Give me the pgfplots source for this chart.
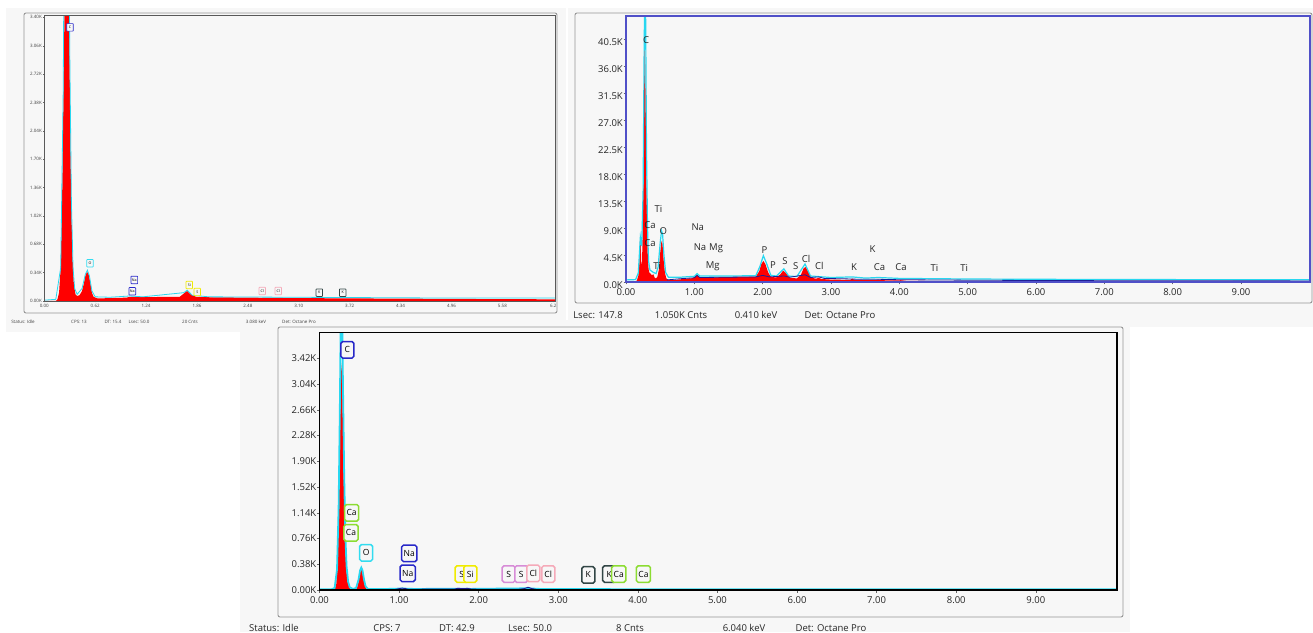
\documentclass[border=0pt]{standalone}
\usepackage{pgfplots}
\pgfplotsset{compat=1.18}
\usepackage{fontspec}
\setmainfont{Open Sans}
\definecolor{bg}{RGB}{247,247,247}
\definecolor{spred}{RGB}{255,0,0}
\definecolor{fitc}{RGB}{40,215,240}
\definecolor{dblue}{RGB}{30,30,150}
\definecolor{p2axis}{RGB}{80,80,200}
\definecolor{framegray}{RGB}{150,150,150}
\definecolor{bblue}{RGB}{40,40,200}
\definecolor{bcyan}{RGB}{50,220,240}
\definecolor{byellow}{RGB}{240,235,0}
\definecolor{bviolet}{RGB}{215,140,215}
\definecolor{bpink}{RGB}{245,170,185}
\definecolor{bdark}{RGB}{50,70,70}
\definecolor{bgreen}{RGB}{140,220,50}
\newcommand{\fa}{\fontsize{4.5}{5}\selectfont}
\newcommand{\fb}{\fontsize{9.5}{11}\selectfont}
\tikzset{
  b1/.style={draw=#1, line width=0.7pt, rounded corners=0.6pt, fill=bg, inner xsep=1pt, inner ysep=1pt, minimum height=7.5pt, minimum width=6.5pt, font=\fontsize{3.6}{4}\selectfont},
  b3/.style={draw=#1, line width=1.5pt, rounded corners=1.8pt, fill=bg, inner xsep=2pt, inner ysep=1pt, minimum height=16.5pt, minimum width=13pt, font=\fontsize{8.5}{9}\selectfont},
  l2/.style={font=\fontsize{9.5}{10}\selectfont, inner sep=0pt, text=black!85}
}
\begin{document}
\begin{tikzpicture}
\useasboundingbox (0pt,0pt) rectangle (1313pt,632pt);
% panel backgrounds
\fill[bg] (6pt,300pt) rectangle (566pt,624pt);
\fill[bg] (568pt,305pt) rectangle (1313pt,624pt);
\fill[bg] (240pt,0pt) rectangle (1130pt,312pt);
% outer frames
\draw[framegray, line width=0.9pt, rounded corners=2pt] (24pt,319pt) rectangle (557pt,619pt);
\draw[framegray, line width=0.9pt, rounded corners=2pt] (575pt,329pt) rectangle (1312pt,619pt);
\draw[framegray, line width=0.9pt, rounded corners=2pt] (278pt,15pt) rectangle (1123pt,305pt);

% ================= Panel 1 =================
\begin{axis}[at={(44.3pt,331pt)}, anchor=south west, scale only axis,
  width=511.2pt, height=285.3pt, xmin=0, xmax=6.227, ymin=0, ymax=3.42,
  axis on top, axis line style={draw=black!65, line width=0.9pt},
  xtick={0,0.62,1.24,1.86,2.48,3.10,3.72,4.34,4.96,5.58,6.2},
  xticklabels={0.00,0.62,1.24,1.86,2.48,3.10,3.72,4.34,4.96,5.58,6.2},
  ytick={0,0.34,0.68,1.02,1.36,1.70,2.04,2.38,2.72,3.06,3.40},
  yticklabels={0.00K,0.34K,0.68K,1.02K,1.36K,1.70K,2.04K,2.38K,2.72K,3.06K,3.40K},
  xtick pos=bottom, ytick pos=left, tick align=outside, major tick length=1.5pt,
  tick style={black!60, line width=0.4pt},
  xticklabel style={font=\fa, text=black!75, inner sep=1pt, yshift=-1pt},
  yticklabel style={font=\fa, text=black!75, inner sep=0.8pt},
  axis background/.style={fill=bg}]
\addplot[fill=spred, draw=none] coordinates {(0,0) (0.14,0) (0.16,0.02) (0.18,0.1) (0.20,0.4) (0.22,1.4) (0.24,3.0) (0.26,4.5) (0.28,4.6) (0.30,3.6) (0.32,1.7) (0.34,0.6) (0.36,0.2) (0.38,0.08) (0.40,0.06) (0.43,0.07) (0.46,0.12) (0.48,0.2) (0.50,0.3) (0.52,0.35) (0.54,0.32) (0.56,0.22) (0.58,0.1) (0.60,0.05) (0.65,0.03) (0.8,0.035) (1.0,0.04) (1.04,0.05) (1.2,0.045) (1.5,0.05) (1.65,0.05) (1.70,0.09) (1.74,0.12) (1.78,0.08) (1.85,0.05) (2.0,0.045) (2.5,0.04) (3.0,0.035) (4.0,0.03) (5.0,0.025) (6.227,0.02)} \closedcycle;
\addplot[fitc, line width=0.8pt] coordinates {(0,0.01) (0.14,0.02) (0.2,0.4) (0.23,2.5) (0.25,5.5) (0.29,5.5) (0.31,3.0) (0.33,1.2) (0.35,0.4) (0.37,0.15) (0.40,0.08) (0.46,0.15) (0.50,0.32) (0.525,0.37) (0.55,0.3) (0.58,0.12) (0.62,0.05) (0.8,0.045) (1.04,0.06) (1.2,0.05) (1.7,0.1) (1.74,0.13) (1.8,0.07) (2.0,0.05) (3,0.045) (4,0.04) (5,0.035) (6.227,0.035)};
\node[b1=bblue] at (axis cs:0.313,3.28) {C};
\node[b1=bcyan] at (axis cs:0.557,0.452) {O};
\node[b1=bblue] at (axis cs:1.096,0.252) {Na};
\node[b1=bblue] at (axis cs:1.072,0.116) {Na};
\node[b1=byellow] at (axis cs:1.766,0.192) {Si};
\node[b1=byellow] at (axis cs:1.864,0.108) {S};
\node[b1=bpink] at (axis cs:2.655,0.12) {Cl};
\node[b1=bpink] at (axis cs:2.85,0.12) {Cl};
\node[b1=bdark] at (axis cs:3.35,0.10) {K};
\node[b1=bdark] at (axis cs:3.635,0.10) {K};
\end{axis}
% panel 1 status
\begin{scope}[every node/.style={font=\fa, text=black!75, inner sep=0pt}]
\node at (23pt,310pt) {Status: Idle};
\node at (79pt,310pt) {CPS: 13};
\node at (113pt,310pt) {DT: 15.4};
\node at (139pt,310pt) {Lsec: 50.0};
\node at (190pt,310pt) {20 Cnts};
\node at (256pt,310pt) {3.080 keV};
\node at (299pt,310pt) {Det: Octane Pro};
\end{scope}

% ================= Panel 2 =================
\begin{axis}[at={(626pt,350pt)}, anchor=south west, scale only axis,
  width=684pt, height=266pt, xmin=0, xmax=10.01, ymin=0, ymax=44.33,
  axis on top, axis line style={draw=p2axis, line width=1.1pt},
  xtick={0,1,2,3,4,5,6,7,8,9},
  xticklabels={0.00,1.00,2.00,3.00,4.00,5.00,6.00,7.00,8.00,9.00},
  ytick={0,4.5,9,13.5,18,22.5,27,31.5,36,40.5},
  yticklabels={0.0K,4.5K,9.0K,13.5K,18.0K,22.5K,27.0K,31.5K,36.0K,40.5K},
  xtick pos=bottom, ytick pos=left, tick align=outside, major tick length=2.5pt,
  tick style={black!60, line width=0.5pt},
  xticklabel style={font=\fb, text=black!85, inner sep=1pt, yshift=-2.5pt},
  yticklabel style={font=\fb, text=black!85, inner sep=0.5pt, yshift=-3.5pt},
  axis background/.style={fill=bg}]
\addplot[fill=spred, draw=none] coordinates {(0,0) (0.14,0) (0.16,0.3) (0.18,1.0) (0.195,3.0) (0.205,7.0) (0.215,6.5) (0.225,2.5) (0.235,3.5) (0.245,9) (0.255,18) (0.265,32) (0.272,40.5) (0.28,38) (0.29,27) (0.30,15.5) (0.31,8) (0.32,4) (0.33,2.2) (0.34,1.6) (0.36,1.4) (0.38,1.1) (0.40,1.3) (0.42,0.7) (0.44,0.6) (0.46,0.9) (0.48,2.0) (0.50,4.8) (0.515,6.5) (0.525,6.9) (0.535,6.2) (0.55,3.8) (0.57,1.5) (0.59,0.6) (0.62,0.35) (0.7,0.3) (0.8,0.45) (0.9,0.55) (0.98,0.65) (1.02,1.0) (1.04,1.15) (1.07,0.8) (1.15,0.75) (1.4,0.8) (1.7,0.85) (1.9,0.9) (1.95,1.8) (1.98,3.0) (2.01,3.5) (2.04,3.0) (2.08,1.6) (2.12,0.85) (2.2,0.75) (2.26,1.3) (2.30,1.9) (2.34,1.5) (2.40,0.7) (2.5,0.6) (2.56,1.2) (2.60,2.3) (2.63,2.5) (2.67,1.7) (2.72,0.7) (2.78,0.55) (2.82,0.7) (2.86,0.5) (3.0,0.4) (3.28,0.35) (3.31,0.55) (3.35,0.35) (3.65,0.3) (3.69,0.4) (3.74,0.3) (4.0,0.25) (4.02,0.3) (4.1,0.2) (4.5,0.15) (5.0,0.1) (5.5,0.07) (6.0,0.04) (7.0,0.02) (10.01,0.01)} \closedcycle;
\addplot[fitc, line width=1.2pt] coordinates {(0,0.35) (0.14,0.4) (0.18,1.5) (0.21,7.5) (0.23,6) (0.25,15) (0.265,38) (0.275,50) (0.285,48) (0.30,22) (0.315,9) (0.33,3.5) (0.35,2.0) (0.40,1.6) (0.44,1.4) (0.47,2.5) (0.50,6.5) (0.52,8.5) (0.535,8.0) (0.555,4.5) (0.58,1.6) (0.62,0.8) (0.8,0.8) (1.0,0.95) (1.04,1.4) (1.08,1.0) (1.5,1.0) (1.9,1.05) (1.96,2.6) (2.01,4.4) (2.06,3.0) (2.12,1.1) (2.2,1.0) (2.31,2.2) (2.38,1.0) (2.5,0.9) (2.62,3.0) (2.7,1.0) (2.82,0.9) (3.0,0.75) (3.31,0.85) (3.5,0.65) (3.69,0.75) (4.0,0.6) (4.5,0.55) (5,0.5) (6,0.45) (7,0.42) (8,0.4) (10.01,0.38)};
\addplot[dblue, line width=0.8pt] coordinates {(0.6,0.35) (0.8,0.55) (1.0,0.7) (1.04,1.1) (1.08,0.75) (1.5,0.8) (1.9,0.85) (2.0,1.1) (2.1,0.85) (2.31,1.0) (2.4,0.8) (2.62,1.2) (2.7,0.75) (2.82,0.85) (2.9,0.6) (3.31,0.5) (3.4,0.45) (3.69,0.45) (4.0,0.38) (5.0,0.3) (6,0.25) (7,0.22) (8,0.2) (10.01,0.18)};
\node[l2] at (axis cs:0.293,40.3) {C};
\node[l2] at (axis cs:0.473,12.2) {Ti};
\node[l2] at (axis cs:0.351,9.45) {Ca};
\node[l2] at (axis cs:0.546,8.55) {O};
\node[l2] at (axis cs:0.351,6.45) {Ca};
\node[l2] at (axis cs:0.458,2.72) {Ti};
\node[l2] at (axis cs:1.05,9.17) {Na};
\node[l2] at (axis cs:1.083,5.83) {Na};
\node[l2] at (axis cs:1.318,5.62) {Mg};
\node[l2] at (axis cs:1.269,2.55) {Mg};
\node[l2] at (axis cs:2.025,5.33) {P};
\node[l2] at (axis cs:2.152,2.83) {P};
\node[l2] at (axis cs:2.328,3.5) {S};
\node[l2] at (axis cs:2.485,2.72) {S};
\node[l2] at (axis cs:2.635,3.88) {Cl};
\node[l2] at (axis cs:2.83,2.72) {Cl};
\node[l2] at (axis cs:3.338,2.55) {K};
\node[l2] at (axis cs:3.606,5.45) {K};
\node[l2] at (axis cs:3.709,2.45) {Ca};
\node[l2] at (axis cs:4.026,2.45) {Ca};
\node[l2] at (axis cs:4.514,2.28) {Ti};
\node[l2] at (axis cs:4.949,2.28) {Ti};
\end{axis}
\begin{scope}[every node/.style={font=\fb, text=black!85, inner sep=0pt}]
\node at (598pt,317pt) {Lsec: 147.8};
\node at (681pt,317pt) {1.050K Cnts};
\node at (756pt,317pt) {0.410 keV};
\node at (840pt,317pt) {Det: Octane Pro};
\end{scope}

% ================= Panel 3 =================
\begin{axis}[at={(319.5pt,42pt)}, anchor=south west, scale only axis,
  width=797.5pt, height=257.5pt, xmin=0, xmax=10.02, ymin=0, ymax=3.80,
  axis on top, axis line style={draw=black, line width=1.4pt},
  xtick={0,1,2,3,4,5,6,7,8,9},
  xticklabels={0.00,1.00,2.00,3.00,4.00,5.00,6.00,7.00,8.00,9.00},
  ytick={0,0.38,0.76,1.14,1.52,1.90,2.28,2.66,3.04,3.42},
  yticklabels={0.00K,0.38K,0.76K,1.14K,1.52K,1.90K,2.28K,2.66K,3.04K,3.42K},
  xtick pos=bottom, ytick pos=left, tick align=outside, major tick length=2.5pt,
  tick style={black!60, line width=0.5pt},
  xticklabel style={font=\fb, text=black!85, inner sep=1pt, yshift=-2.5pt},
  yticklabel style={font=\fb, text=black!85, inner sep=0.5pt},
  axis background/.style={fill=bg}]
\addplot[fill=spred, draw=none] coordinates {(0,0) (0.17,0) (0.19,0.01) (0.21,0.08) (0.23,0.45) (0.245,1.3) (0.255,2.2) (0.265,2.9) (0.275,3.35) (0.285,3.1) (0.295,2.4) (0.305,1.6) (0.315,1.0) (0.325,0.6) (0.335,0.35) (0.345,0.2) (0.355,0.13) (0.365,0.09) (0.375,0.04) (0.39,0.01) (0.42,0.004) (0.46,0.01) (0.48,0.06) (0.50,0.18) (0.515,0.29) (0.525,0.32) (0.535,0.29) (0.55,0.19) (0.57,0.07) (0.59,0.015) (0.62,0.004) (1.0,0.004) (1.04,0.008) (1.1,0.004) (1.7,0.005) (1.74,0.01) (1.8,0.005) (2.6,0.006) (2.62,0.012) (2.66,0.005) (3.5,0.003) (10.02,0.002)} \closedcycle;
\addplot[fitc, line width=1.8pt] coordinates {(0,0.01) (0.15,0.01) (0.19,0.03) (0.22,0.3) (0.24,1.2) (0.255,2.6) (0.265,3.8) (0.275,4.4) (0.285,4.0) (0.295,3.0) (0.31,1.7) (0.325,0.8) (0.34,0.35) (0.36,0.12) (0.38,0.04) (0.42,0.015) (0.46,0.03) (0.49,0.15) (0.51,0.29) (0.525,0.33) (0.54,0.29) (0.56,0.15) (0.58,0.05) (0.61,0.015) (0.8,0.014) (1.04,0.022) (1.2,0.015) (1.74,0.02) (1.9,0.016) (2.62,0.025) (2.8,0.014) (4,0.012) (6,0.011) (8,0.010) (10.02,0.010)};
\addplot[dblue, line width=0.9pt] coordinates {(0.95,0.008) (1.0,0.02) (1.04,0.028) (1.08,0.02) (1.12,0.01) (1.3,0.012) (1.7,0.015) (1.74,0.025) (1.8,0.02) (1.86,0.024) (1.92,0.012) (2.5,0.01) (2.57,0.02) (2.62,0.04) (2.67,0.02) (2.72,0.01)};
\node[b3=bblue] at (axis cs:0.35,3.545) {C};
\node[b3=bgreen] at (axis cs:0.404,1.139) {Ca};
\node[b3=bgreen] at (axis cs:0.396,0.844) {Ca};
\node[b3=bcyan] at (axis cs:0.586,0.549) {O};
\node[b3=bblue] at (axis cs:1.128,0.54) {Na};
\node[b3=bblue] at (axis cs:1.108,0.246) {Na};
\node[b3=byellow] at (axis cs:1.786,0.236) {S};
\node[b3=byellow] at (axis cs:1.895,0.236) {Si};
\node[b3=bviolet] at (axis cs:2.377,0.236) {S};
\node[b3=bviolet] at (axis cs:2.535,0.236) {S};
\node[b3=bpink] at (axis cs:2.686,0.246) {Cl};
\node[b3=bpink] at (axis cs:2.874,0.236) {Cl};
\node[b3=bdark] at (axis cs:3.377,0.222) {K};
\node[b3=bdark] at (axis cs:3.64,0.236) {K};
\node[b3=bgreen] at (axis cs:3.76,0.236) {Ca};
\node[b3=bgreen] at (axis cs:4.07,0.236) {Ca};
\end{axis}
\begin{scope}[every node/.style={font=\fb, text=black!85, inner sep=0pt}]
\node at (274pt,4pt) {Status: Idle};
\node at (387pt,4pt) {CPS: 7};
\node at (457pt,4pt) {DT: 42.9};
\node at (530pt,4pt) {Lsec: 50.0};
\node at (630pt,4pt) {8 Cnts};
\node at (744pt,4pt) {6.040 keV};
\node at (831pt,4pt) {Det: Octane Pro};
\end{scope}
\end{tikzpicture}
\end{document}
